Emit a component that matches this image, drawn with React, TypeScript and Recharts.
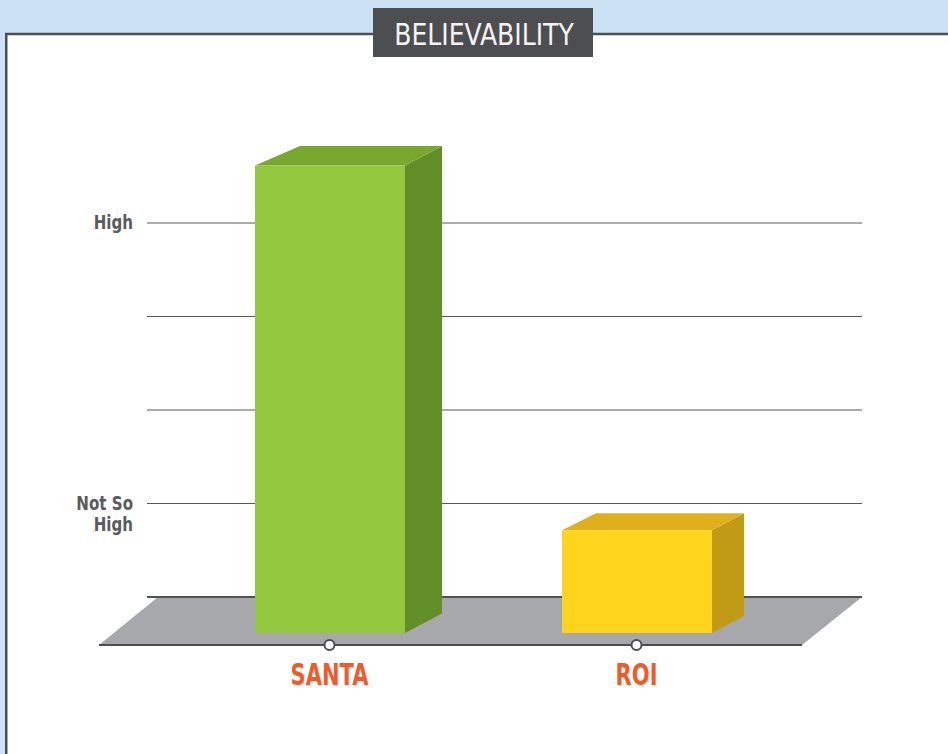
import React from 'react';
import { BarChart, Bar, XAxis, YAxis, CartesianGrid } from 'recharts';

// ---- data ----
const CATEGORIES = ['SANTA', 'ROI'];
const BELIEVABILITY = [5, 1.1];
const Y_TICKS = [0, 1, 2, 3, 4];
const Y_TICK_LABELS = ['', 'Not So\nHigh', '', '', 'High'];
const TITLE = 'BELIEVABILITY';

const data = CATEGORIES.map((name, i) => ({ name, value: BELIEVABILITY[i] }));

// ---- styles ----
const W = 948;
const H = 754;
const PLOT_LEFT = 147;
const PLOT_RIGHT = 862;
const PLOT_TOP = 129.5;
const BASE_Y = 597;
const FLOOR_DEPTH = 48;
const FRONT_DROP = 36;
const FONT = "'DejaVu Sans Condensed', 'DejaVu Sans', sans-serif";
const BAR_COLORS = [
  { front: '#93c83e', top: '#78a82e', side: '#628e28' },
  { front: '#fed41c', top: '#dfb01c', side: '#c19a16' },
];
const BAR_DEPTH = [
  { l: 45, r: 37, dy: 19.5 },
  { l: 34, r: 32, dy: 17 },
];

const Bar3D = (props: any) => {
  const { x, y, width, height, index } = props;
  const c = BAR_COLORS[index % BAR_COLORS.length];
  const d = BAR_DEPTH[index % BAR_DEPTH.length];
  const yf = y + FRONT_DROP;
  const yb = y + height + FRONT_DROP;
  const xr = x + width;
  return (
    <g>
      <polygon
        points={`${xr},${yf} ${xr + d.r},${yf - d.dy} ${xr + d.r},${yb - d.dy} ${xr},${yb}`}
        fill={c.side}
      />
      <polygon
        points={`${x},${yf} ${x + d.l},${yf - d.dy} ${xr + d.r},${yf - d.dy} ${xr},${yf}`}
        fill={c.top}
      />
      <rect x={x} y={yf} width={width} height={height} fill={c.front} />
    </g>
  );
};

const YTick = (props: any) => {
  const { x, y, payload } = props;
  const label = Y_TICK_LABELS[Y_TICKS.indexOf(payload.value)] || '';
  if (!label) return null;
  const lines = label.split('\n');
  return (
    <g transform={`translate(${x},${y + 6}) scale(0.86,1)`}>
      {lines.map((ln: string, i: number) => (
        <text
          key={i}
          x={0}
          y={i * 22}
          textAnchor="end"
          fontFamily={FONT}
          fontWeight="bold"
          fontSize={19.5}
          fill="#5a5b5d"
        >
          {ln}
        </text>
      ))}
    </g>
  );
};

const XTick = (props: any) => {
  const { x, y, payload } = props;
  return (
    <g>
      <circle cx={x} cy={y} r={5} fill="#ffffff" stroke="#4d4d4f" strokeWidth={2} />
      <g transform={`translate(${x},${y + 40}) scale(0.78,1)`}>
        <text x={0} y={0} textAnchor="middle" fontFamily={FONT} fontWeight="bold" fontSize={30} fill="#f15a29">
          {payload.value}
        </text>
      </g>
    </g>
  );
};

export default function App() {
  return (
    <div
      style={{
        position: 'absolute',
        left: 0,
        top: 0,
        width: W,
        height: H,
        overflow: 'hidden',
        background: '#cce2f4',
      }}
    >
      <svg width={W} height={H} style={{ position: 'absolute', left: 0, top: 0 }}>
        <rect x={6.25} y={34} width={1200} height={1200} fill="#ffffff" stroke="#4b4f53" strokeWidth={2.5} />
        <polygon
          points={`${PLOT_LEFT + 11},${BASE_Y} ${PLOT_RIGHT},${BASE_Y} ${PLOT_RIGHT - 60},${BASE_Y + FLOOR_DEPTH} ${PLOT_LEFT - 48},${BASE_Y + FLOOR_DEPTH}`}
          fill="#a7a8ab"
        />
        <line x1={PLOT_LEFT} x2={PLOT_RIGHT} y1={BASE_Y} y2={BASE_Y} stroke="#4d4d4f" strokeWidth={2} />
        <line
          x1={PLOT_LEFT - 48}
          x2={PLOT_RIGHT - 60}
          y1={BASE_Y + FLOOR_DEPTH}
          y2={BASE_Y + FLOOR_DEPTH}
          stroke="#4d4d4f"
          strokeWidth={2}
        />
        <rect x={373} y={8} width={220} height={49} fill="#4d4e50" />
        <g transform="translate(484,44.5) scale(0.9,1)">
          <text x={0} y={0} textAnchor="middle" fontFamily={FONT} fontSize={31} fill="#f4f4f4">
            {TITLE}
          </text>
        </g>
      </svg>
      <div style={{ position: 'absolute', left: 0, top: 0 }}>
        <BarChart
          width={W}
          height={H}
          data={data}
          margin={{ top: PLOT_TOP, right: W - PLOT_RIGHT, bottom: H - BASE_Y - 100, left: 0 }}
        >
          <CartesianGrid vertical={false} stroke="#58595b" strokeWidth={1} horizontalValues={Y_TICKS} />
          <XAxis
            dataKey="name"
            axisLine={false}
            tickLine={false}
            tickSize={0}
            tickMargin={FLOOR_DEPTH}
            height={100}
            interval={0}
            padding={{ left: 29, right: 72 }}
            tick={<XTick />}
          />
          <YAxis
            type="number"
            domain={[0, 5]}
            ticks={Y_TICKS}
            axisLine={false}
            tickLine={false}
            tickSize={0}
            tickMargin={14}
            width={PLOT_LEFT}
            tick={<YTick />}
          />
          <Bar dataKey="value" barSize={150} isAnimationActive={false} shape={<Bar3D />} />
        </BarChart>
      </div>
    </div>
  );
}
